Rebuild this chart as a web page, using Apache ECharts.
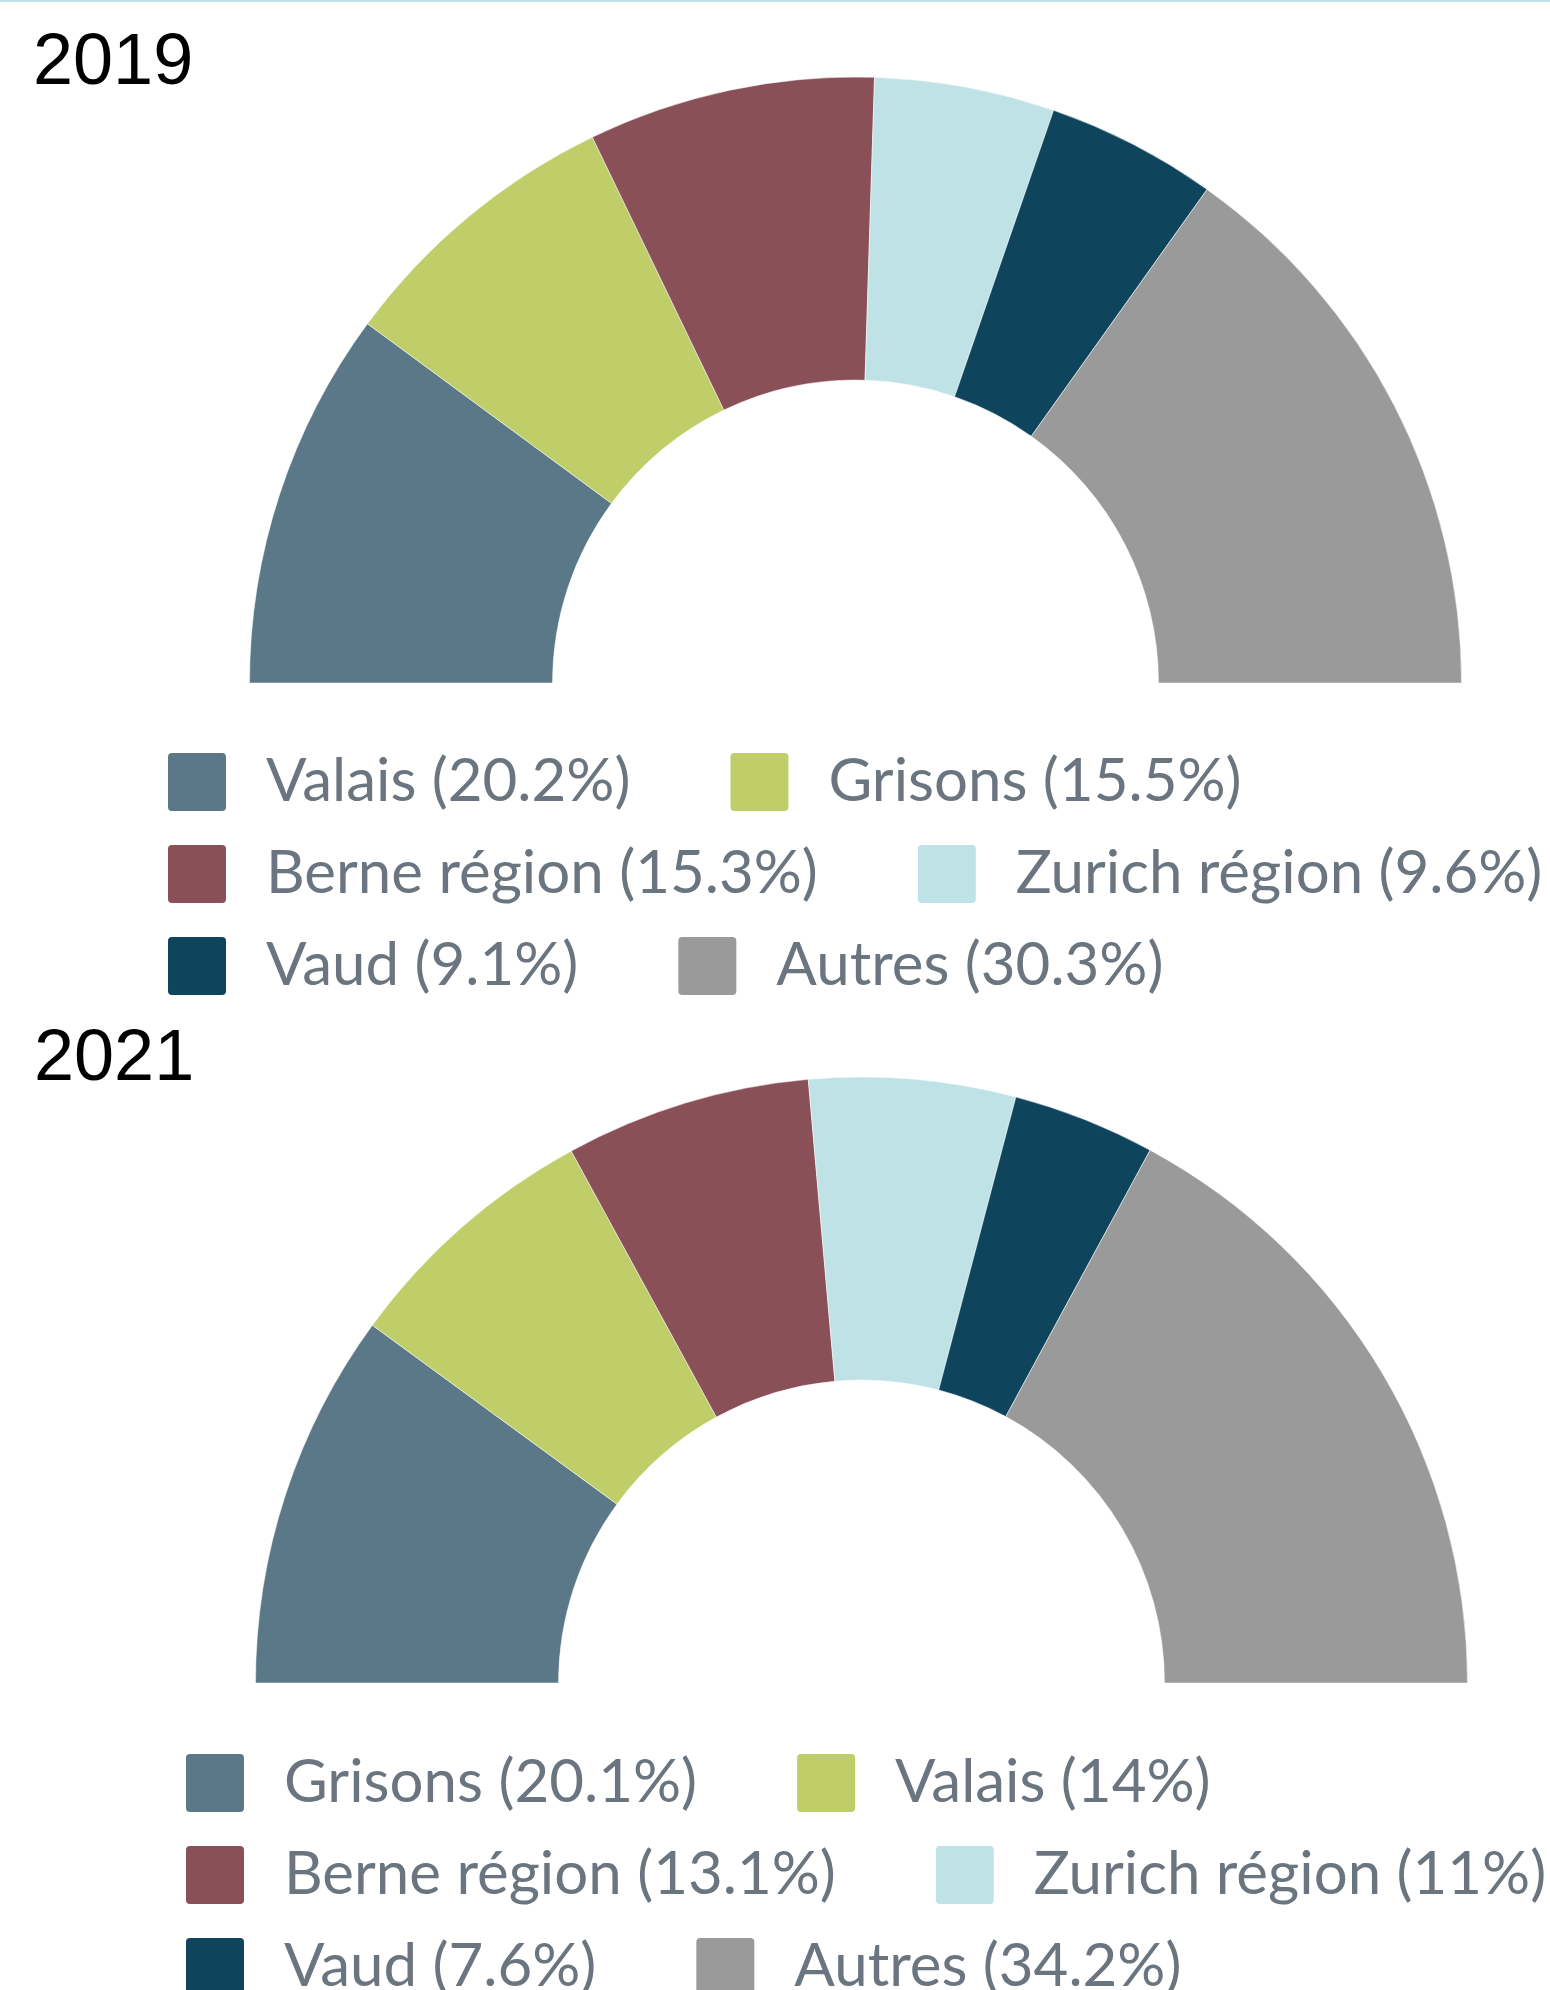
<!DOCTYPE html>
<html>
<head>
<meta charset="utf-8">
<script src="https://cdn.jsdelivr.net/npm/echarts@6/dist/echarts.min.js"></script>
<style>
  html, body { margin: 0; padding: 0; background: #fff; }
  #chart-container { width: 1550px; height: 1990px; }
</style>
</head>
<body>
<div id="chart-container"></div>
<script>
// data
var regions2019 = ['Valais', 'Grisons', 'Berne région', 'Zurich région', 'Vaud', 'Autres'];
var shares2019 = [20.2, 15.5, 15.3, 9.6, 9.1, 30.3];
var regions2021 = ['Grisons', 'Valais', 'Berne région', 'Zurich région', 'Vaud', 'Autres'];
var shares2021 = [20.1, 14, 13.1, 11, 7.6, 34.2];
var sliceColors = ['#5b7888', '#c0ce69', '#8a5058', '#bfe2e6', '#0e445c', '#9a9a9a'];

var dom = document.getElementById('chart-container');
var myChart = echarts.init(dom, null, { renderer: 'canvas' });

function makeData(regions, shares) {
    return regions.map(function (r, i) {
        return {
            name: r + ' (' + shares[i] + '%)',
            value: shares[i],
            itemStyle: { color: sliceColors[i] }
        };
    });
}

var data2019 = makeData(regions2019, shares2019);
var data2021 = makeData(regions2021, shares2021);

var legendIcon = 'path://M5,0 H55 Q60,0 60,5 V55 Q60,60 55,60 H5 Q0,60 0,55 V5 Q0,0 5,0 Z';

function makeLegend(data, left, top) {
    return {
        data: data.map(function (d) { return d.name; }),
        left: left,
        top: top,
        width: 1600,
        padding: 0,
        orient: 'horizontal',
        icon: legendIcon,
        itemWidth: 60,
        itemHeight: 60,
        itemGap: 30,
        selectedMode: false,
        textStyle: {
            fontFamily: 'Lato',
            fontSize: 60,
            lineHeight: 60,
            color: '#6b7580',
            padding: [0, 68, 0, 34]
        }
    };
}

function makePie(data, center) {
    return {
        type: 'pie',
        center: center,
        radius: [303, 606],
        startAngle: 180,
        endAngle: 0,
        clockwise: true,
        silent: true,
        label: { show: false },
        labelLine: { show: false },
        itemStyle: { borderColor: '#fff', borderWidth: 0.5 },
        data: data
    };
}

var option = {
    animation: false,
    title: [
        {
            text: '2019', left: 33, top: 28, padding: 0,
            textStyle: { fontFamily: 'Liberation Sans', fontSize: 72, fontWeight: 'normal', color: '#000' }
        },
        {
            text: '2021', left: 34, top: 1024, padding: 0,
            textStyle: { fontFamily: 'Liberation Sans', fontSize: 72, fontWeight: 'normal', color: '#000' }
        }
    ],
    graphic: [{
        type: 'rect',
        shape: { x: 0, y: 0, width: 1550, height: 2 },
        style: { fill: '#bfe2e6' }
    }],
    legend: [
        makeLegend(data2019, 166, 751),
        makeLegend(data2021, 184, 1752)
    ],
    series: [
        makePie(data2019, [855.5, 683]),
        makePie(data2021, [861.5, 1683])
    ]
};

myChart.setOption(option);
window.addEventListener('resize', myChart.resize);
</script>
</body>
</html>
